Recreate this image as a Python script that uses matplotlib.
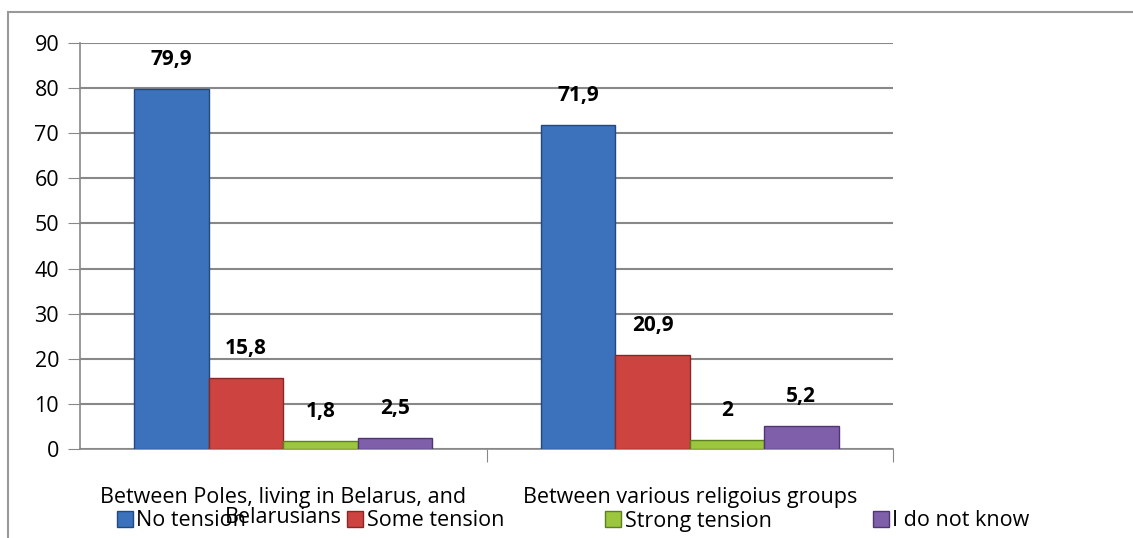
import matplotlib.pyplot as plt
import matplotlib.patches as mpatches
import numpy as np

categories = ["Between Poles, living in Belarus, and\nBelarusians", "Between various religoius groups"]
series_names = ["No tension", "Some tension", "Strong tension", "I do not know"]
no_tension = [79.9, 71.9]
some_tension = [15.8, 20.9]
strong_tension = [1.8, 2.0]
dont_know = [2.5, 5.2]
value_labels = [["79,9", "71,9"], ["15,8", "20,9"], ["1,8", "2"], ["2,5", "5,2"]]

colors = ["#3C72BC", "#CC4340", "#9DC63F", "#7F5FAA"]
edges = ["#22497E", "#8A2624", "#5E7F1E", "#4F3673"]

plt.rcParams['font.family'] = ['Open Sans', 'DejaVu Sans']

fig = plt.figure(figsize=(11.33, 5.38), dpi=100)
ax = fig.add_axes([80 / 1133, 1 - 449 / 538, 813 / 1133, 406 / 538])

x = np.arange(len(categories))
w = 0.183
series = [no_tension, some_tension, strong_tension, dont_know]
for i, vals in enumerate(series):
    pos = x + (i - 1.5) * w
    ax.bar(pos, vals, w, color=colors[i], edgecolor=edges[i], linewidth=1.0,
           label=series_names[i], zorder=3)
    for p, v, t in zip(pos, vals, value_labels[i]):
        ax.annotate(t, (p, v), xytext=(0, 21), textcoords="offset points",
                    ha="center", va="center", fontsize=15, fontweight="bold")

ax.set_ylim(0, 90)
ax.set_xlim(-0.5, 1.5)
ax.set_yticks(range(0, 91, 10))
ax.yaxis.grid(True, color="#888888", linewidth=1.5, zorder=0)
ax.set_axisbelow(True)
ax.set_xticks([0.5, 1.5], minor=False, labels=["", ""])
ax.set_xticks(x, minor=True, labels=categories)
for lab in ax.get_xticklabels(minor=True):
    lab.set_linespacing(0.95)
ax.tick_params(axis="x", which="minor", length=0, pad=27, labelsize=15.5)
ax.tick_params(axis="x", which="major", length=9, color="#888888")
ax.tick_params(axis="y", length=9, color="#888888", labelsize=15.5, pad=6)
for s in ["top", "right"]:
    ax.spines[s].set_visible(False)
for s in ["left", "bottom"]:
    ax.spines[s].set_color("#888888")
    ax.spines[s].set_linewidth(1.2)

leg = fig.legend(loc="center", bbox_to_anchor=(573 / 1133, 1 - 521 / 538), ncol=4,
                 frameon=False, fontsize=15.5, handlelength=0.75, handleheight=0.75,
                 columnspacing=4.7, handletextpad=0.15)

border = mpatches.Rectangle((8 / 1133, -0.1), 1.2, 1 - 12 / 538 + 0.1, transform=fig.transFigure,
                            fill=False, edgecolor="#999999", linewidth=1.5, clip_on=False)
fig.patches.append(border)

fig.savefig("out.png", dpi=100)
